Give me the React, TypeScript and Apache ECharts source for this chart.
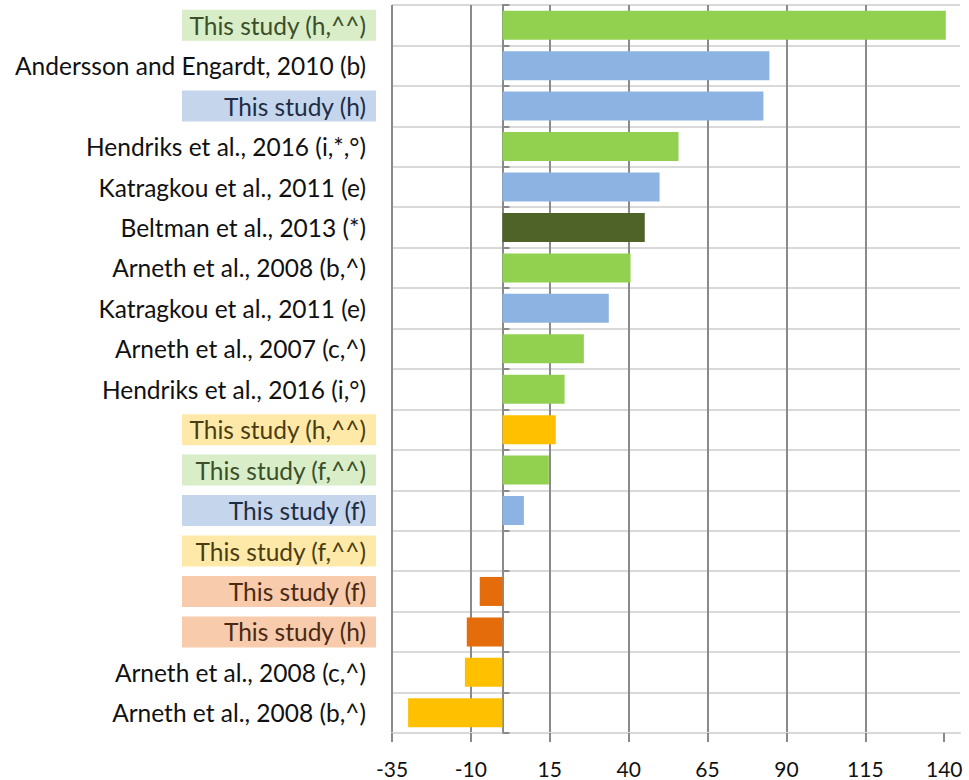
import React, { useEffect, useRef } from "react";
import * as echarts from "echarts";

const categories = [
  "This study (h,^^)",
  "Andersson and Engardt, 2010 (b)",
  "This study (h)",
  "Hendriks et al., 2016 (i,*,°)",
  "Katragkou et al., 2011 (e)",
  "Beltman et al., 2013 (*)",
  "Arneth et al., 2008 (b,^)",
  "Katragkou et al., 2011 (e)",
  "Arneth et al., 2007 (c,^)",
  "Hendriks et al., 2016 (i,°)",
  "This study (h,^^)",
  "This study (f,^^)",
  "This study (f)",
  "This study (f,^^)",
  "This study (f)",
  "This study (h)",
  "Arneth et al., 2008 (c,^)",
  "Arneth et al., 2008 (b,^)",
];

const values = [
  140.5, 84.6, 82.7, 55.8, 49.8, 45.1, 40.6, 33.7, 25.8, 19.7, 16.9, 14.7, 6.8,
  0, -7.2, -11.3, -11.9, -29.9,
];

const groups = [
  "green", "blue", "blue", "green", "blue", "darkgreen", "green", "blue", "green",
  "green", "yellow", "green", "blue", "yellow", "orange", "orange", "yellow", "yellow",
];

const highlightedLabels = [
  true, false, true, false, false, false, false, false, false, false, true, true,
  true, true, true, true, false, false,
];

const xTicks = [-35, -10, 15, 40, 65, 90, 115, 140];

const barColors: Record<string, string> = {
  green: "#92d050",
  blue: "#8db3e2",
  darkgreen: "#4f6228",
  yellow: "#ffc000",
  orange: "#e46c0a",
};

const labelBg: Record<string, string> = {
  green: "#d8edc8",
  blue: "#c5d6ec",
  yellow: "#ffe9a8",
  orange: "#f8cbac",
};

const labelText: Record<string, string> = {
  green: "#3b4f2a",
  blue: "#1e2d45",
  yellow: "#4a3d13",
  orange: "#4a2a14",
};

const FONT = "Lato";
const DARK = "#8a8a8a";
const LIGHT = "#d9d9d9";

export default function App() {
  const ref = useRef<HTMLDivElement>(null);
  useEffect(() => {
    if (!ref.current) return;
    const chart = echarts.init(ref.current, null, { renderer: "svg" });
    const baseRich = {
      width: 184,
      align: "right",
      padding: [3, 10, 3, 0],
      lineHeight: 25,
      fontSize: 24.5,
      fontFamily: FONT,
    };
    const rich: Record<string, any> = {
      p: { ...baseRich, color: "#111111" },
    };
    Object.keys(labelBg).forEach((k) => {
      rich[k] = { ...baseRich, color: labelText[k], backgroundColor: labelBg[k] };
    });

    chart.setOption({
      animation: false,
      grid: { left: 392, right: 9, top: 5, bottom: 47, containLabel: false },
      xAxis: {
        type: "value",
        min: -35,
        max: 145,
        interval: 25,
        axisLine: { show: true, lineStyle: { color: LIGHT, width: 2 } },
        axisTick: {
          show: true,
          length: 9,
          customValues: xTicks,
          lineStyle: { color: DARK, width: 2 },
        },
        axisLabel: {
          showMaxLabel: false,
          margin: 25,
          fontSize: 21,
          color: "#111111",
          fontFamily: FONT,
        },
        splitLine: {
          show: true,
          showMaxLine: false,
          lineStyle: { color: DARK, width: 2 },
        },
      },
      yAxis: [
        {
          type: "category",
          data: categories,
          inverse: true,
          position: "left",
          axisLine: { show: true, onZero: true, lineStyle: { color: DARK, width: 2 } },
          axisTick: { show: true, inside: true, length: 7, lineStyle: { color: DARK, width: 2 } },
          axisLabel: { show: false },
          splitLine: { show: true, lineStyle: { color: LIGHT, width: 2 } },
        },
        {
          type: "category",
          data: categories,
          inverse: true,
          position: "left",
          axisLine: { show: false, onZero: false },
          axisTick: { show: false },
          splitLine: { show: false },
          axisLabel: {
            show: true,
            margin: 16,
            interval: 0,
            formatter: (v: string, i: number) => {
              const key = highlightedLabels[i] ? groups[i] : "p";
              return `{${key}|${v}}`;
            },
            rich,
          },
        },
      ],
      series: [
        {
          type: "bar",
          yAxisIndex: 0,
          barWidth: 29,
          data: values.map((v, i) => ({
            value: v,
            itemStyle: { color: barColors[groups[i]] },
          })),
        },
      ],
    });
    return () => chart.dispose();
  }, []);
  return (
    <div
      ref={ref}
      style={{ position: "fixed", left: 0, top: 0, width: 969, height: 780, background: "#fff" }}
    />
  );
}
